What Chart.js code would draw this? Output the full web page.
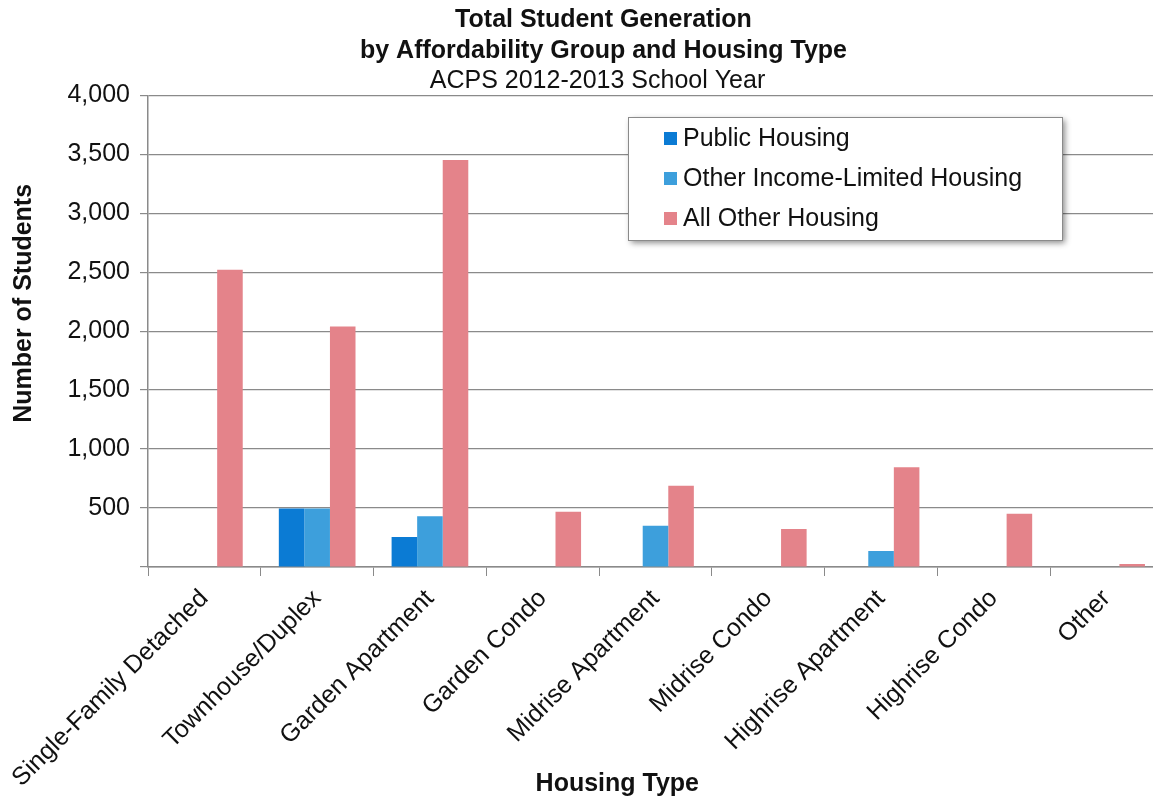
<!DOCTYPE html>
<html>
<head>
<meta charset="utf-8">
<script src="https://cdn.jsdelivr.net/npm/chart.js@4.4.1/dist/chart.umd.min.js"></script>
<style>
  html, body { margin: 0; padding: 0; background: #fff; overflow: hidden; }
  canvas { display: block; }
</style>
</head>
<body>
<!-- a bit wider than the window: the scan cuts the plot off on the right -->
<canvas id="students" width="1163" height="805"></canvas>
<script>
const housingTypes = [
  "Single-Family Detached",
  "Townhouse/Duplex",
  "Garden Apartment",
  "Garden Condo",
  "Midrise Apartment",
  "Midrise Condo",
  "Highrise Apartment",
  "Highrise Condo",
  "Other",
];
const publicHousing = [0, 495, 255, 0, 0, 0, 0, 0, 0];
const otherIncomeLimited = [0, 495, 430, 0, 350, 0, 135, 0, 0];
const allOtherHousing = [2520, 2040, 3450, 468, 688, 322, 845, 452, 25];
const yTicks = [0, 500, 1000, 1500, 2000, 2500, 3000, 3500, 4000];

const titleLines = ["Total Student Generation", "by Affordability Group and Housing Type"];
const subtitleText = "ACPS 2012-2013 School Year";

const FONT = "'Liberation Sans', Arial, sans-serif";

// axis titles sit off-centre in the original; pad with spaces to move them
const xTitle = "Housing Type".padEnd(12 + 11, " ");
const yTitle = "Number of Students".padStart(18 + 8, " ");

// legend box drawn inside the plot, like the original
const boxLegend = {
  id: "boxLegend",
  afterDraw(chart) {
    const ctx = chart.ctx;
    const x = 628, y = 117, w = 434, h = 123;
    ctx.save();
    ctx.shadowColor = "rgba(0,0,0,0.45)";
    ctx.shadowBlur = 6;
    ctx.shadowOffsetX = 3;
    ctx.shadowOffsetY = 3;
    ctx.fillStyle = "#fff";
    ctx.fillRect(x, y, w, h);
    ctx.restore();
    ctx.save();
    ctx.strokeStyle = "#8a8a8a";
    ctx.lineWidth = 1;
    ctx.strokeRect(x + 0.5, y + 0.5, w, h);
    ctx.font = "25px " + FONT;
    ctx.textBaseline = "middle";
    chart.data.datasets.forEach((ds, i) => {
      const cy = y + 21 + i * 40;
      ctx.fillStyle = ds.backgroundColor;
      ctx.fillRect(x + 36, cy - 6, 13, 13);
      ctx.fillStyle = "#111";
      ctx.fillText(ds.label, x + 55, cy + 1);
    });
    ctx.restore();
  },
};

// nudge the title block to the right, it is not centred on the canvas in the scan
const titleShift = {
  id: "titleShift",
  afterLayout(chart) {
    chart.boxes.forEach((b) => {
      if (!b.options || b.axis) return;
      let dx = 0;
      if (b.options.text === subtitleText) dx = 16;
      else if (Array.isArray(b.options.text)) dx = 22;
      b.left += dx;
      b.right += dx;
    });
  },
};

const ctx = document.getElementById("students").getContext("2d");

let studentsChart = new Chart(ctx, {
  type: "bar",
  data: {
    labels: housingTypes,
    datasets: [
      {
        label: "Public Housing",
        data: publicHousing,
        backgroundColor: "#0b7bd4",
        categoryPercentage: 0.68,
        barPercentage: 1.0,
      },
      {
        label: "Other Income-Limited Housing",
        data: otherIncomeLimited,
        backgroundColor: "#3d9fdc",
        categoryPercentage: 0.68,
        barPercentage: 1.0,
      },
      {
        label: "All Other Housing",
        data: allOtherHousing,
        backgroundColor: "#e4838a",
        categoryPercentage: 0.68,
        barPercentage: 1.0,
      },
    ],
  },
  options: {
    responsive: false,
    animation: false,
    layout: {
      padding: { top: 0, right: 0, bottom: 0, left: 0 },
    },
    plugins: {
      legend: { display: false },
      tooltip: { enabled: false },
      title: {
        display: true,
        text: titleLines,
        color: "#111",
        font: { family: FONT, size: 25, weight: "bold", lineHeight: 1.25 },
        padding: { top: 4, bottom: 0 },
      },
      subtitle: {
        display: true,
        text: subtitleText,
        color: "#111",
        font: { family: FONT, size: 25, weight: "normal", lineHeight: 1.15 },
        padding: { top: 0, bottom: 0 },
      },
    },
    scales: {
      x: {
        afterFit: (s) => { s.height = 238; },
        grid: {
          display: true,
          drawOnChartArea: false,
          drawTicks: true,
          tickLength: 9,
          color: "#8a8a8a",
          offset: true,
        },
        border: { color: "#8a8a8a", width: 1.5 },
        ticks: {
          color: "#111",
          font: { family: FONT, size: 25 },
          minRotation: 45,
          maxRotation: 45,
          padding: 8,
        },
        title: {
          display: true,
          text: xTitle,
          color: "#111",
          font: { family: FONT, size: 25, weight: "bold" },
          padding: { top: 0, bottom: 6 },
        },
      },
      y: {
        min: 0,
        max: 4000,
        afterFit: (s) => { s.width = 148; },
        afterBuildTicks: (s) => { s.ticks = yTicks.map((v) => ({ value: v })); },
        grid: {
          color: "#8a8a8a",
          lineWidth: 1.2,
          tickLength: 8,
        },
        border: { color: "#8a8a8a", width: 1.5 },
        ticks: {
          color: "#111",
          font: { family: FONT, size: 25 },
          padding: 10,
          callback: function (value) {
            return value === 0 ? "" : value.toLocaleString("en-US");
          },
        },
        title: {
          display: true,
          text: yTitle,
          color: "#111",
          font: { family: FONT, size: 25, weight: "bold" },
          padding: { top: 9, bottom: 4 },
        },
      },
    },
  },
  plugins: [boxLegend, titleShift],
});
</script>
</body>
</html>
